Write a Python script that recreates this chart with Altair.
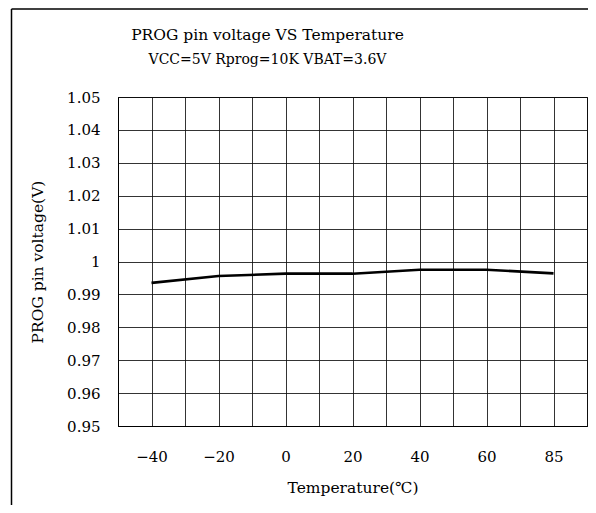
import json
import altair as alt
import pandas as pd

# ---- data ----
temps = ["−40", "−20", "0", "20", "40", "60", "85"]
voltage = [0.9935, 0.9956, 0.9963, 0.9963, 0.9975, 0.9975, 0.9964]
y_ticks = [0.95, 0.96, 0.97, 0.98, 0.99, 1.00, 1.01, 1.02, 1.03, 1.04, 1.05]
x_grid = [-0.5, 0, 0.5, 1, 1.5, 2, 2.5, 3, 3.5, 4, 4.5, 5, 5.5, 6, 6.5]

FONT = "DejaVu Serif"
df = pd.DataFrame({"idx": list(range(len(temps))), "temp": temps, "v": voltage})

label_expr = ("datum.value % 1 == 0 ? " + json.dumps(temps, ensure_ascii=False)
              + "[datum.value] : ''")

base = alt.Chart(df)

line = base.mark_line(color="black", strokeWidth=2.6).encode(
    x=alt.X("idx:Q",
            scale=alt.Scale(domain=[-0.5, 6.5], nice=False, zero=False),
            axis=alt.Axis(values=x_grid, labelExpr=label_expr, labelOverlap=False,
                          grid=True, gridColor="#111", gridOpacity=0.85,
                          ticks=False, domainColor="black",
                          labelFont=FONT, labelFontSize=15, labelColor="black",
                          labelPadding=23,
                          title="Temperature(℃)", titleFont=FONT, titleFontSize=15.5,
                          titleFontWeight="normal", titleColor="black",
                          titlePadding=16)),
    y=alt.Y("v:Q",
            scale=alt.Scale(domain=[0.95, 1.05], nice=False, zero=False),
            axis=alt.Axis(values=y_ticks, format=".3~r",
                          grid=True, gridColor="#111", gridOpacity=0.85,
                          ticks=False, domainColor="black",
                          labelFont=FONT, labelFontSize=15, labelColor="black",
                          labelPadding=18,
                          title="PROG pin voltage(V)", titleFont=FONT, titleFontSize=15.5,
                          titleFontWeight="normal", titleColor="black",
                          titlePadding=21)),
)

frame_data = alt.Data(values=[{}])
left_edge = alt.Chart(frame_data).mark_rule(color="black", strokeWidth=1.5).encode(
    x=alt.value(-106.5), y=alt.value(-88), y2=alt.value(500))
top_edge = alt.Chart(frame_data).mark_rule(color="black", strokeWidth=1.5).encode(
    x=alt.value(-106.5), x2=alt.value(600), y=alt.value(-88))

chart = alt.layer(line, left_edge, top_edge).properties(
    width=469, height=329,
    padding={"left": 110, "top": 89, "right": 1, "bottom": 79},
    autosize=alt.AutoSizeParams(type="none"),
    title=alt.TitleParams(
        text="PROG pin voltage VS Temperature",
        subtitle="VCC=5V Rprog=10K VBAT=3.6V",
        font=FONT, fontSize=15.5, fontWeight="normal", color="black",
        subtitleFont=FONT, subtitleFontSize=14, subtitleColor="black",
        subtitlePadding=10, anchor="middle", dx=-85, offset=-59),
).configure_view(stroke="black", strokeWidth=1)

chart.save("out.html", embed_options={"renderer": "svg", "actions": False})
